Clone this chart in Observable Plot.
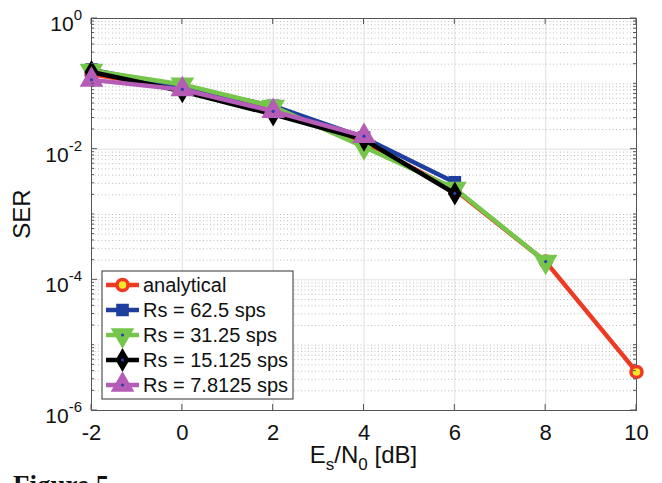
<!DOCTYPE html>
<html>
<head>
<meta charset="utf-8">
<script src="https://cdn.jsdelivr.net/npm/d3@7"></script>
<script src="https://cdn.jsdelivr.net/npm/@observablehq/plot@0.6"></script>
<style>
  html, body { margin: 0; padding: 0; background: #fff; overflow: hidden; }
  #chart svg { display: block; }
  #caption { font: bold 27px "Liberation Serif", "Times New Roman", serif; line-height: 27px; margin: 2px 0 0 13px; color: #111; }
</style>
</head>
<body>
<div id="chart"></div>
<div id="caption">Figure 5</div>
<script>
// ---- data ----
const snr = [-2, 0, 2, 4, 6, 8, 10];
const analytical = [0.14, 0.084, 0.040, 0.0125, 0.0024, 0.00019, 0.0000039];
const rs625 = [0.165, 0.088, 0.046, 0.015, 0.0031];
const rs3125 = [0.16, 0.098, 0.045, 0.0108, 0.0025, 0.00019];
const rs15125 = [0.152, 0.077, 0.034, 0.014, 0.0021];
const rs78125 = [0.115, 0.082, 0.038, 0.0158];
const seriesNames = ["analytical", "Rs = 62.5 sps", "Rs = 31.25 sps", "Rs = 15.125 sps", "Rs = 7.8125 sps"];
const xTicks = [-2, 0, 2, 4, 6, 8, 10];
const yLabelExp = [0, -2, -4, -6];

// ---- styles ----
const colors = ["#ee3a22", "#1f3f9f", "#77c64c", "#000000", "#b45cb6"];
const styles = [
  {symbol: "circle", r: 5.5, fill: "#f5e62a", stroke: colors[0], sw: 3.5, rotate: 0, dotCenter: false},
  {symbol: "square", r: 6, fill: colors[1], stroke: colors[1], sw: 2, rotate: 0, dotCenter: false},
  {symbol: "triangle", r: 7.5, fill: colors[2], stroke: colors[2], sw: 2, rotate: 180, dotCenter: true},
  {symbol: "diamond", r: 5.5, fill: "#000", stroke: "#000", sw: 3, rotate: 0, dotCenter: true},
  {symbol: "triangle", r: 7.5, fill: colors[4], stroke: colors[4], sw: 2, rotate: 0, dotCenter: true}
];

const allSeries = [analytical, rs625, rs3125, rs15125, rs78125];
const rows = allSeries.flatMap((vals, i) => vals.map((v, j) => ({x: snr[j], y: v, s: i})));

const yMajor = yLabelExp.map(e => Math.pow(10, e));
const yMinor = [];
for (let e = -6; e < 0; e++) for (let k = 1; k <= 9; k++) {
  const v = k * Math.pow(10, e);
  if (!(k === 1 && e % 2 === 0)) yMinor.push(v);
}

const W = 662, H = 470, mL = 91, mR = 26, mT = 18, mB = 60;
const font = "'Liberation Sans', Arial, Helvetica, sans-serif";

const marks = [
  Plot.ruleY(yMinor, {stroke: "#bdbdbd", strokeDasharray: "1,2.5", strokeWidth: 1}),
  Plot.gridX({ticks: xTicks, stroke: "#e0e0e0", strokeOpacity: 1}),
  Plot.ruleY(yMajor, {stroke: "#e0e0e0"}),
  Plot.frame({stroke: "#555"}),
  Plot.axisX({ticks: xTicks, tickSize: 0, tickPadding: 14, fontSize: 22, tickFormat: d => String(d), label: null, fill: "#111"})
];
allSeries.forEach((vals, i) => {
  const d = rows.filter(r => r.s === i);
  const st = styles[i];
  marks.push(Plot.line(d, {x: "x", y: "y", stroke: colors[i], strokeWidth: 4.5, strokeLinejoin: "round"}));
  marks.push(Plot.dot(d, {x: "x", y: "y", symbol: st.symbol, r: st.r, fill: st.fill, stroke: st.stroke, strokeWidth: st.sw, rotate: st.rotate}));
  if (st.dotCenter) marks.push(Plot.dot(d, {x: "x", y: "y", r: 1.6, fill: "#2a3fa8"}));
});

const chart = Plot.plot({
  width: W, height: H,
  marginLeft: mL, marginRight: mR, marginTop: mT, marginBottom: mB,
  x: {domain: [-2, 10]},
  y: {type: "log", domain: [1e-6, 1], axis: null},
  style: {fontFamily: font, background: "#fff", overflow: "visible"},
  marks
});
document.getElementById("chart").appendChild(chart);

const X = chart.scale("x"), Y = chart.scale("y");
const svg = d3.select(chart);
const x0 = X.apply(-2), x1 = X.apply(10), y0 = Y.apply(1e-6), y1 = Y.apply(1);

// inner ticks
const tg = svg.append("g").attr("stroke", "#555").attr("stroke-width", 1);
xTicks.forEach(t => {
  const px = X.apply(t);
  tg.append("line").attr("x1", px).attr("x2", px).attr("y1", y0).attr("y2", y0 - 6);
  tg.append("line").attr("x1", px).attr("x2", px).attr("y1", y1).attr("y2", y1 + 6);
});
yMajor.forEach(v => {
  const py = Y.apply(v);
  tg.append("line").attr("x1", x0).attr("x2", x0 + 6).attr("y1", py).attr("y2", py);
  tg.append("line").attr("x1", x1).attr("x2", x1 - 6).attr("y1", py).attr("y2", py);
});
yMinor.forEach(v => {
  const py = Y.apply(v);
  tg.append("line").attr("x1", x0).attr("x2", x0 + 3).attr("y1", py).attr("y2", py);
  tg.append("line").attr("x1", x1).attr("x2", x1 - 3).attr("y1", py).attr("y2", py);
});

// y tick labels 10^n
const lg = svg.append("g").attr("font-family", font).attr("fill", "#111");
yLabelExp.forEach(e => {
  const py = Y.apply(Math.pow(10, e));
  const t = lg.append("text").attr("x", 82).attr("y", py + 13).attr("text-anchor", "end").attr("font-size", 21);
  t.append("tspan").text("10");
  t.append("tspan").attr("dy", -11).attr("font-size", 15).text(String(e));
});

// axis labels
lg.append("text").attr("transform", `translate(30,${(y0 + y1) / 2}) rotate(-90)`)
  .attr("text-anchor", "middle").attr("font-size", 24).text("SER");
const xl = lg.append("text").attr("x", (x0 + x1) / 2).attr("y", 463).attr("text-anchor", "middle").attr("font-size", 24);
xl.append("tspan").text("E");
xl.append("tspan").attr("dy", 7).attr("font-size", 17).text("s");
xl.append("tspan").attr("dy", -7).text("/N");
xl.append("tspan").attr("dy", 7).attr("font-size", 17).text("0");
xl.append("tspan").attr("dy", -7).text(" [dB]");

// legend
const leg = svg.append("g").attr("font-family", font).attr("text-anchor", "start");
leg.append("rect").attr("x", 102).attr("y", 271).attr("width", 191).attr("height", 128)
  .attr("fill", "#fff").attr("stroke", "#333").attr("stroke-width", 1);
seriesNames.forEach((name, i) => {
  const cy = 285 + i * 25;
  const st = styles[i];
  leg.append("line").attr("x1", 106).attr("x2", 139).attr("y1", cy).attr("y2", cy)
    .attr("stroke", colors[i]).attr("stroke-width", 4.5);
  const symMap = {circle: d3.symbolCircle, square: d3.symbolSquare, triangle: d3.symbolTriangle, diamond: d3.symbolDiamond};
  leg.append("path").attr("d", d3.symbol(symMap[st.symbol], st.r * st.r * Math.PI)())
    .attr("transform", `translate(122.5,${cy}) rotate(${st.rotate})`)
    .attr("fill", st.fill).attr("stroke", st.stroke).attr("stroke-width", st.sw);
  if (st.dotCenter) leg.append("circle").attr("cx", 122.5).attr("cy", cy).attr("r", 1.6).attr("fill", "#2a3fa8");
  leg.append("text").attr("x", 143).attr("y", cy + 7).attr("font-size", 20).attr("fill", "#111")
    .attr("text-anchor", "start").text(name);
});
</script>
</body>
</html>
